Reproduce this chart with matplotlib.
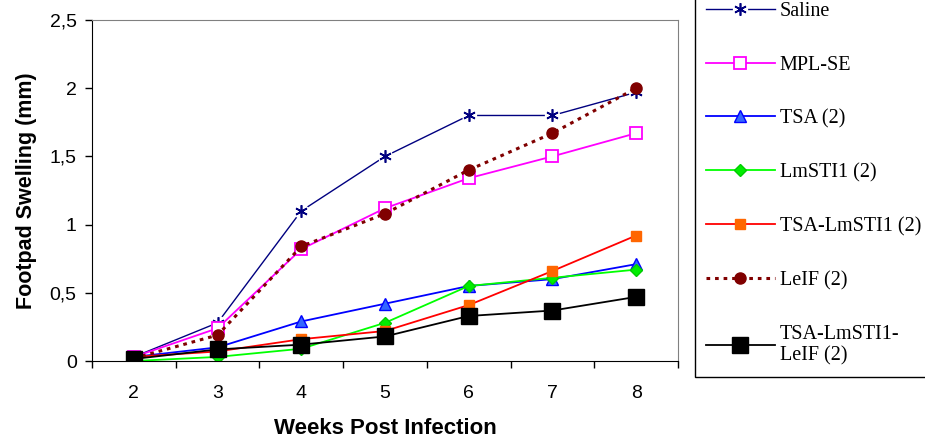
import matplotlib
matplotlib.use('Agg')
import matplotlib.pyplot as plt
import numpy as np
from matplotlib.ticker import FuncFormatter
from matplotlib.legend_handler import HandlerTuple

# datos
semanas = [2, 3, 4, 5, 6, 7, 8]
saline = [0.03, 0.28, 1.10, 1.50, 1.80, 1.80, 1.97]
mpl_se = [0.03, 0.24, 0.82, 1.12, 1.34, 1.50, 1.67]
tsa = [0.03, 0.10, 0.29, 0.42, 0.55, 0.60, 0.71]
lmsti1 = [0.00, 0.03, 0.09, 0.28, 0.55, 0.61, 0.67]
tsa_lmsti1 = [0.03, 0.07, 0.16, 0.22, 0.41, 0.66, 0.92]
leif = [0.02, 0.19, 0.84, 1.08, 1.40, 1.67, 2.00]
tsa_lmsti1_leif = [0.015, 0.085, 0.12, 0.18, 0.33, 0.37, 0.47]

plt.rcParams['font.family'] = ['Liberation Sans', 'DejaVu Sans']

fig = plt.figure(figsize=(9.25, 4.44), dpi=100)
ax = fig.add_axes([92/925, 1-361/444, (678-92)/925, (361-20)/444])

x = np.array(semanas)

# Saline: linea con huecos alrededor del marcador
l_sal, = ax.plot(x, saline, '-', color='#000080', lw=1)
w_sal, = ax.plot(x, saline, 'o', color='white', ms=11, mec='none')
m_sal, = ax.plot(x, saline, ls='none', marker=(6, 2, 0), ms=9, mec='#000080', mew=1.2)

ax.plot(x, mpl_se, '-s', color='#FF00FF', lw=1.3, ms=8, mfc='white', mec='#FF00FF', mew=1.3, label='MPL-SE')
ax.plot(x, tsa, '-^', color='#0000FF', lw=1.3, ms=8, mfc='#3366FF', mec='#0000FF', label='TSA (2)')
ax.plot(x, lmsti1, '-D', color='#00FF00', lw=1.3, ms=6.5, mfc='#00EE00', mec='#00CC00', label='LmSTI1 (2)')
ax.plot(x, tsa_lmsti1, '-s', color='#FF0000', lw=1.3, ms=7.5, mfc='#FF6600', mec='#FF6600', label='TSA-LmSTI1 (2)')
ax.plot(x, leif, 'o', ls=(0, (1.2, 1.6)), color='#800000', lw=2.2, ms=8, mfc='#800000', mec='#800000', label='LeIF (2)')
ax.plot(x, tsa_lmsti1_leif, '-s', color='black', lw=1.3, ms=11, label='TSA-LmSTI1-\nLeIF (2)')

# ejes
ax.set_xlim(1.5, 8.5)
ax.set_ylim(0, 2.5)
ax.set_yticks([0, 0.5, 1, 1.5, 2, 2.5])
ax.yaxis.set_major_formatter(FuncFormatter(lambda v, p: ('%g' % v).replace('.', ',')))
ax.set_xticks(semanas)
ax.set_xticks(np.arange(1.5, 8.6, 1), minor=True)
ax.tick_params(axis='x', which='major', length=0, pad=17, labelsize=14)
ax.tick_params(axis='x', which='minor', length=5, width=1, direction='out')
ax.tick_params(axis='y', length=5, width=1, direction='out', pad=6, labelsize=14)
for s in ['top', 'right']:
    ax.spines[s].set_color('#808080')

ax.set_xlabel('Weeks Post Infection', fontsize=16, fontweight='bold', labelpad=12)
ax.set_ylabel('Footpad Swelling (mm)', fontsize=15.5, fontweight='bold', labelpad=9)

# leyenda
handles, labels = ax.get_legend_handles_labels()
handles = [(l_sal, w_sal, m_sal)] + handles
labels = ['Saline'] + labels
leg = fig.legend(handles, labels, loc='lower left', bbox_to_anchor=(695/925, 1-377/444),
                 handler_map={tuple: HandlerTuple(ndivide=1)},
                 prop={'family': 'Liberation Serif', 'size': 14.5},
                 frameon=True, fancybox=False, edgecolor='black', framealpha=1,
                 handlelength=3.4, handletextpad=0.25, labelspacing=1.72, borderpad=0.55,
                 borderaxespad=0, numpoints=1)
leg.get_frame().set_linewidth(1)

fig.savefig('out.png', dpi=100)
